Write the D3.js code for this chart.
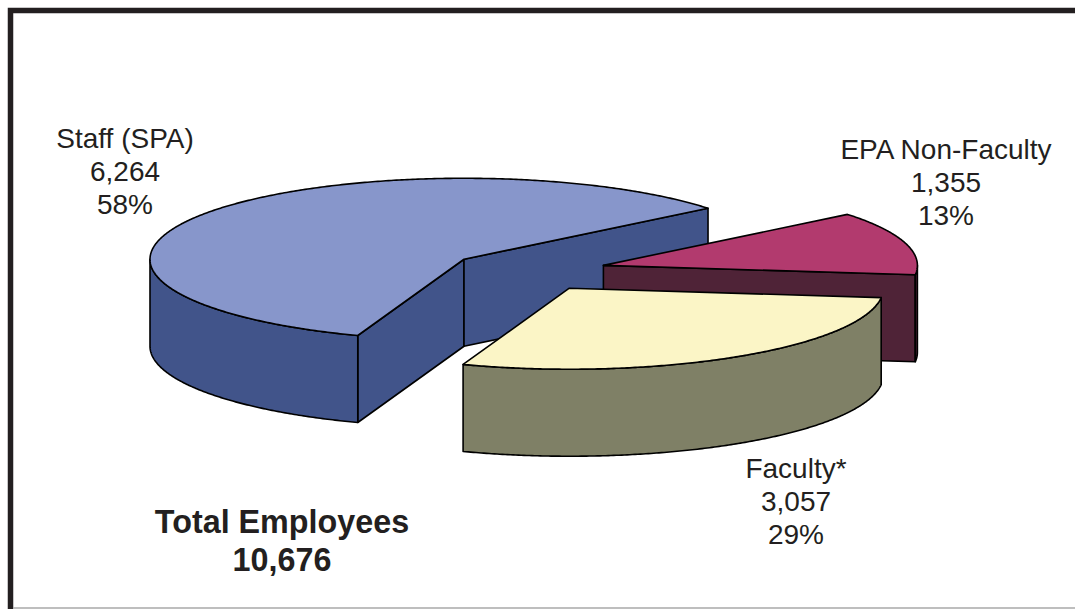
<!DOCTYPE html>
<html><head><meta charset="utf-8">
<script src="https://cdn.jsdelivr.net/npm/d3@7/dist/d3.min.js"></script>
<style>html,body{margin:0;padding:0;background:#fff}svg{display:block}text{font-family:"Liberation Sans",Arial,sans-serif;fill:#231f20}</style>
</head><body><svg id="c" width="1075" height="609"></svg>
<script>
const categories = ["EPA Non-Faculty", "Faculty*", "Staff (SPA)"];
const values = [1355, 3057, 6264];
const valueLabels = ["1,355", "3,057", "6,264"];
const percentLabels = ["13%", "29%", "58%"];
const topColors = ["#b23a6e", "#fbf5c6", "#8796cb"];
const wallColors = ["#4f2337", "#7f8066", "#41548a"];
const totalLabel = ["Total Employees", "10,676"];
const labelAnchors = [[946, 150], [796, 469], [125, 139]];

const W = 1075, H = 609;
const cx = 528, cy = 271, rx = 314, ry = 81, depth = 87, explode = 0.25;
const rad = Math.PI / 180;
const svg = d3.select("#c");

// frame
svg.append("rect").attr("x",10.5).attr("y",10.5).attr("width",W+40).attr("height",H+40)
  .attr("fill","#fff").attr("stroke","#231f20").attr("stroke-width",5.5);
svg.append("line").attr("x1",13).attr("x2",W).attr("y1",608).attr("y2",608).attr("stroke","#a8a8a8").attr("stroke-width",1.5);

const pie = d3.pie().sort(null).value(d=>d).startAngle(51*rad).endAngle(411*rad);
const arcs = pie(values).map((d,i)=>{
  const a0 = d.startAngle - Math.PI/2, a1 = d.endAngle - Math.PI/2, mid=(a0+a1)/2;
  return {i, a0, a1, ox: cx + explode*rx*Math.cos(mid), oy: cy + explode*ry*Math.sin(mid)};
});
const line = d3.line();
const rim = (s,t,dy=0) => { const n=Math.max(2,Math.ceil(Math.abs(t-s)/(0.5*rad)));
  return d3.range(n+1).map(k=>{const a=s+(t-s)*k/n;return [rx*Math.cos(a), ry*Math.sin(a)+dy];}); };
const st = {stroke:"#000","stroke-width":1.6,"stroke-linejoin":"round"};
const draw = (g,pts,fill) => { const p=g.append("path").attr("d",line(pts)+"Z").attr("fill",fill);
  Object.entries(st).forEach(([k,v])=>p.attr(k,v)); };

// painter's order: Staff, EPA, Faculty
[2,0,1].forEach(idx=>{
  const s = arcs[idx];
  const g = svg.append("g").attr("transform",`translate(${s.ox},${s.oy})`);
  const wc = wallColors[idx];
  // radial faces
  [[s.a0,-1],[s.a1,1]].forEach(([t,sgn])=>{
    if (sgn*Math.cos(t) > 0) {
      const e=[rx*Math.cos(t),ry*Math.sin(t)];
      draw(g,[[0,0],e,[e[0],e[1]+depth],[0,depth]],wc);
    }
  });
  // outer wall, front half only
  [0,-2*Math.PI].forEach(k=>{
    const lo=Math.max(s.a0+k,0), hi=Math.min(s.a1+k,Math.PI);
    if (hi>lo) draw(g,rim(lo,hi).concat(rim(hi,lo,depth)),wc);
  });
  // top
  draw(g,[[0,0]].concat(rim(s.a0,s.a1)),topColors[idx]);
});

// labels
categories.forEach((c,i)=>{
  const t=svg.append("text").attr("text-anchor","middle").attr("font-size",28);
  [c,valueLabels[i],percentLabels[i]].forEach((l,k)=>{
    t.append("tspan").attr("x",labelAnchors[i][0]).attr("y",labelAnchors[i][1]+9+k*33.2).text(l);
  });
});
const tt=svg.append("text").attr("text-anchor","middle").attr("font-size",32.3).attr("font-weight","bold");
totalLabel.forEach((l,k)=>tt.append("tspan").attr("x",282).attr("y",533+k*38).text(l));
</script></body></html>
